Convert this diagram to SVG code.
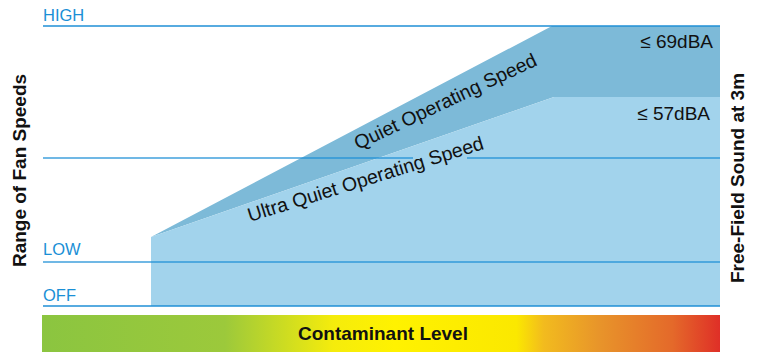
<svg xmlns="http://www.w3.org/2000/svg" width="758" height="352" viewBox="0 0 758 352">
<style>
.ax{font-family:"Liberation Sans",Arial,sans-serif;font-size:16.5px;fill:#1a8fd6}
.lbl{font-family:"Liberation Sans",Arial,sans-serif;font-size:19.5px;fill:#111}
.db{font-family:"Liberation Sans",Arial,sans-serif;font-size:19px;fill:#111}
.b{font-family:"Liberation Sans",Arial,sans-serif;font-size:19px;font-weight:bold;fill:#111}
.ln{stroke:#1f8fd6;stroke-width:1.4;fill:none}
</style>
<defs>
<linearGradient id="cg" x1="0" y1="0" x2="1" y2="0">
<stop offset="0" stop-color="#8bc540"/>
<stop offset="0.27" stop-color="#9cc93b"/>
<stop offset="0.43" stop-color="#f5ec0c"/>
<stop offset="0.52" stop-color="#fff200"/>
<stop offset="0.70" stop-color="#fbe800"/>
<stop offset="0.74" stop-color="#f2bb1e"/>
<stop offset="0.82" stop-color="#e8952a"/>
<stop offset="0.93" stop-color="#e4692a"/>
<stop offset="1" stop-color="#df2f27"/>
</linearGradient>
</defs>
<g id="quiet-region">
<polygon points="151,237 552,26 720,26 720,97 554,97" fill="#7dbad8"/>
</g>
<g id="ultra-quiet-region">
<polygon points="151,237 554,97 720,97 720,306 151,306" fill="#a2d3ec"/>
</g>
<g id="connectors">
<line class="ln" x1="43" y1="26" x2="720" y2="26"/>
<line class="ln" x1="43" y1="158" x2="413" y2="158" opacity="0.85"/>
<line class="ln" x1="467" y1="158" x2="720" y2="158" opacity="0.85"/>
<line class="ln" x1="43" y1="262" x2="720" y2="262" opacity="0.85"/>
<line class="ln" x1="43" y1="306" x2="720" y2="306"/>
</g>
<g id="axis-labels">
<text class="ax" x="43" y="21">HIGH</text>
<text class="ax" x="43" y="255">LOW</text>
<text class="ax" x="43" y="300.5">OFF</text>
</g>
<g id="quiet-label">
<text class="lbl" transform="translate(358,150) rotate(-25.3)">Quiet Operating Speed</text>
</g>
<g id="ultra-quiet-label">
<text class="lbl" transform="translate(250,222) rotate(-17.3)">Ultra Quiet Operating Speed</text>
</g>
<g id="db-labels">
<text class="db" x="713" y="47.5" text-anchor="end">≤ 69dBA</text>
<text class="db" x="710" y="120" text-anchor="end">≤ 57dBA</text>
</g>
<g id="y-left">
<text class="b" transform="translate(26,170.5) rotate(-90)" text-anchor="middle">Range of Fan Speeds</text>
</g>
<g id="y-right">
<text class="b" transform="translate(744,178) rotate(-90)" text-anchor="middle">Free-Field Sound at 3m</text>
</g>
<g id="contaminant-bar">
<rect x="42" y="315" width="678" height="37" fill="url(#cg)"/>
<text class="b" x="383" y="340" text-anchor="middle">Contaminant Level</text>
</g>
</svg>
